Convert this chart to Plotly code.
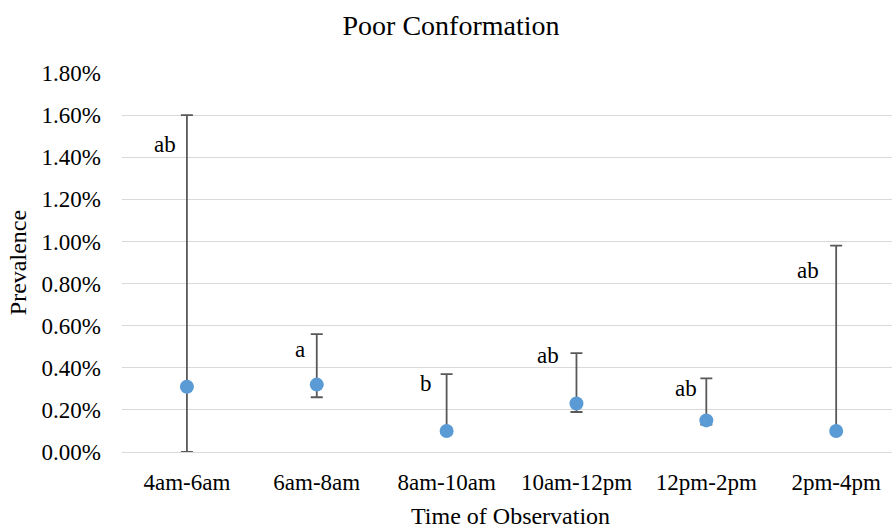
import plotly.graph_objects as go

categories = ["4am-6am", "6am-8am", "8am-10am", "10am-12pm", "12pm-2pm", "2pm-4pm"]
prevalence = [0.0031, 0.0032, 0.0010, 0.0023, 0.0015, 0.0010]
upper = [0.0160, 0.0056, 0.0037, 0.0047, 0.0035, 0.0098]
lower = [0.0000, 0.0026, 0.0012, 0.0019, 0.0013, 0.0010]
letters = ["ab", "a", "b", "ab", "ab", "ab"]
letter_y = [0.01462, 0.00489, 0.00323, 0.0046, 0.0030, 0.00864]
letter_dx = [-0.17, -0.13, -0.16, -0.22, -0.155, -0.22]

err_plus = [u - p for u, p in zip(upper, prevalence)]
err_minus = [max(p - l, 0) for p, l in zip(prevalence, lower)]

font_family = "Liberation Serif, Times New Roman, serif"

fig = go.Figure()
fig.add_trace(go.Scatter(
    x=list(range(len(categories))),
    y=prevalence,
    mode="markers",
    marker=dict(color="#5B9BD5", size=14),
    error_y=dict(type="data", symmetric=False, array=err_plus, arrayminus=err_minus,
                 color="#595959", thickness=1.8, width=6),
    showlegend=False,
))

for i, (t, ly, dx) in enumerate(zip(letters, letter_y, letter_dx)):
    fig.add_annotation(x=i + dx, y=ly, text=t, showarrow=False,
                       font=dict(family=font_family, size=23, color="#000000"))

# x-axis title (placed as annotation to match the reference's centring)
fig.add_annotation(text="Time of Observation", xref="paper", yref="paper",
                   x=0.505, y=-0.169, xanchor="center", yanchor="middle",
                   showarrow=False, font=dict(family=font_family, size=24, color="#000000"))

fig.update_layout(
    width=892, height=529,
    margin=dict(l=122, r=0, t=73, b=77),
    paper_bgcolor="white", plot_bgcolor="white",
    font=dict(family=font_family, size=23, color="#000000"),
    title=dict(text="Poor Conformation", x=451 / 892, xanchor="center",
               y=1 - 25 / 529, yanchor="middle",
               font=dict(family=font_family, size=28, color="#000000")),
    xaxis=dict(
        tickmode="array", tickvals=list(range(len(categories))), ticktext=categories,
        range=[-0.5, 5.43], showgrid=False, zeroline=False, showline=False,
        ticks="", tickfont=dict(size=23), ticklabelstandoff=14, automargin=False,
    ),
    yaxis=dict(
        range=[0, 0.018], dtick=0.002, tickformat=".2%",
        showgrid=True, gridcolor="#D9D9D9", gridwidth=1.3,
        zeroline=True, zerolinecolor="#D9D9D9", zerolinewidth=1.3,
        showline=False, ticks="", tickfont=dict(size=23), ticklabelstandoff=20,
        automargin=False,
        title=dict(text="Prevalence", standoff=8, font=dict(size=24)),
    ),
)

fig.write_html(
    "out.html",
    config={"displayModeBar": False},
    post_script="document.body.style.margin='0';document.body.style.overflow='hidden';",
)
